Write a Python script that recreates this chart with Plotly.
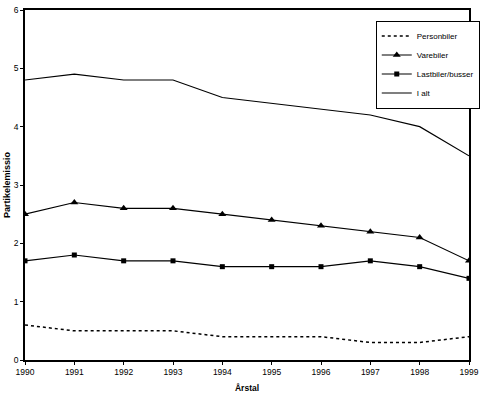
import plotly.graph_objects as go

years = [1990, 1991, 1992, 1993, 1994, 1995, 1996, 1997, 1998, 1999]
personbiler = [0.6, 0.5, 0.5, 0.5, 0.4, 0.4, 0.4, 0.3, 0.3, 0.4]
varebiler = [2.5, 2.7, 2.6, 2.6, 2.5, 2.4, 2.3, 2.2, 2.1, 1.7]
lastbiler = [1.7, 1.8, 1.7, 1.7, 1.6, 1.6, 1.6, 1.7, 1.6, 1.4]
i_alt = [4.8, 4.9, 4.8, 4.8, 4.5, 4.4, 4.3, 4.2, 4.0, 3.5]

FONT = "Liberation Sans, Arial, sans-serif"

fig = go.Figure()
fig.add_trace(go.Scatter(x=years, y=personbiler, name="Personbiler", mode="lines",
                         line=dict(color="black", width=1.5, dash="dot")))
fig.add_trace(go.Scatter(x=years, y=varebiler, name="Varebiler", mode="lines+markers",
                         line=dict(color="black", width=1.2),
                         marker=dict(symbol="triangle-up", size=7, color="black")))
fig.add_trace(go.Scatter(x=years, y=lastbiler, name="Lastbiler/busser", mode="lines+markers",
                         line=dict(color="black", width=1.2),
                         marker=dict(symbol="square", size=5, color="black")))
fig.add_trace(go.Scatter(x=years, y=i_alt, name="I alt", mode="lines",
                         line=dict(color="black", width=1.2)))

fig.update_layout(
    width=490, height=398,
    margin=dict(l=25, r=14, t=10, b=38),
    paper_bgcolor="white", plot_bgcolor="white",
    font=dict(family=FONT, size=8.5, color="black"),
    showlegend=True,
    legend=dict(x=0.79, y=0.97, xanchor="left", yanchor="top",
                bgcolor="white", bordercolor="black", borderwidth=1,
                font=dict(size=8), itemwidth=30, tracegroupgap=0),
    xaxis=dict(range=[1990, 1999], tickmode="array", tickvals=years,
               ticktext=[str(y) for y in years], automargin=False,
               showgrid=False, zeroline=False, showline=True, linecolor="black",
               linewidth=1.5, mirror=True, ticks="outside", ticklen=3, tickcolor="black",
               title=dict(text="<b>Årstal</b>", font=dict(size=8.5), standoff=9)),
    yaxis=dict(range=[0, 6], dtick=1, showgrid=False, zeroline=False, showline=True,
               automargin=False,
               linecolor="black", linewidth=1.5, mirror=True, ticks="outside", ticklen=3,
               tickcolor="black",
               title=dict(text="<b>Partikelemissio</b>", font=dict(size=9), standoff=2)),
)

fig.write_html("out.html", config={"displayModeBar": False},
               post_script="document.body.style.margin='0';document.body.style.overflow='hidden';")
